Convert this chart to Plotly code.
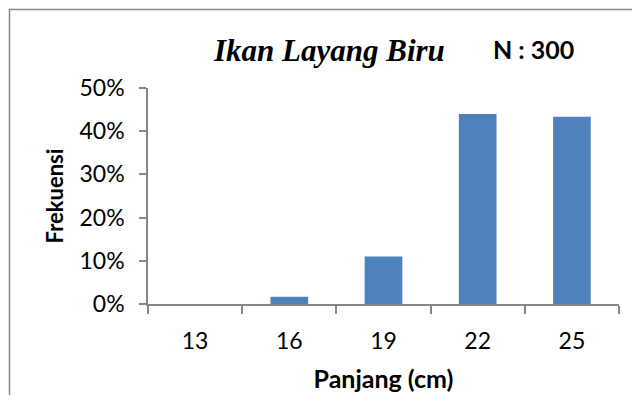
import plotly.graph_objects as go

categories = ["13", "16", "19", "22", "25"]
frekuensi = [0.0, 0.0167, 0.11, 0.44, 0.4333]
y_ticks = [0, 0.1, 0.2, 0.3, 0.4, 0.5]
y_labels = ["0%", "10%", "20%", "30%", "40%", "50%"]

OFF = 8  # browser body margin
W, H = 640 - 2 * OFF, 403 - 2 * OFF
# plot area in page pixels
PL, PR, PT, PB = 148, 619, 88, 304
L, T = PL - OFF, PT - OFF
R, B = W - (PR - OFF), H - (PB - OFF)
pw, ph = W - L - R, H - T - B

def px_x(p):
    return (p - OFF - L) / pw

def px_y(p):
    return (H - B - (p - OFF)) / ph

fig = go.Figure(go.Bar(x=categories, y=frekuensi,
                       marker=dict(color="#4F81BD", line=dict(width=0)), width=0.4))

axis_col = "#868686"
font_fam = "Lato, Carlito, Calibri, sans-serif"
fig.update_layout(
    width=W, height=H,
    margin=dict(l=L, r=R, t=T, b=B, pad=0, autoexpand=False),
    paper_bgcolor="white", plot_bgcolor="white",
    showlegend=False,
    font=dict(family=font_fam, size=23, color="black"),
    xaxis=dict(type="category", tickson="boundaries", ticks="outside", ticklen=8,
               tickcolor=axis_col, tickwidth=1.5, showline=True, linecolor=axis_col, linewidth=1.5,
               showgrid=False, tickfont=dict(size=23, family=font_fam), ticklabelstandoff=16,
               automargin=False,
               title=dict(text="<b>Panjang (cm)</b>", font=dict(size=25, family=font_fam), standoff=17)),
    yaxis=dict(range=[0, 0.5], tickvals=y_ticks, ticktext=y_labels, ticks="outside", ticklen=7,
               tickcolor=axis_col, tickwidth=1.5, showline=True, linecolor=axis_col, linewidth=1.5,
               showgrid=False, zeroline=False, tickfont=dict(size=23, family=font_fam),
               ticklabelstandoff=10, automargin=False,
               title=dict(text="<b>Frekuensi</b>", font=dict(size=22, family=font_fam), standoff=10)),
    annotations=[
        dict(text="<b><i>Ikan Layang Biru</i></b>", xref="paper", yref="paper",
             x=px_x(329), y=px_y(50), xanchor="center", yanchor="middle", showarrow=False,
             font=dict(family="Liberation Serif, Times New Roman, serif", size=31)),
        dict(text="<b>N : 300</b>", xref="paper", yref="paper",
             x=px_x(533), y=px_y(49), xanchor="center", yanchor="middle", showarrow=False,
             font=dict(family=font_fam, size=25)),
    ],
    shapes=[
        dict(type="rect", xref="paper", yref="paper",
             x0=px_x(9.5), x1=px_x(700), y0=px_y(460), y1=px_y(9.5),
             line=dict(color=axis_col, width=1.5), fillcolor="rgba(0,0,0,0)", layer="below"),
    ],
)

fig.write_html("out.html")
